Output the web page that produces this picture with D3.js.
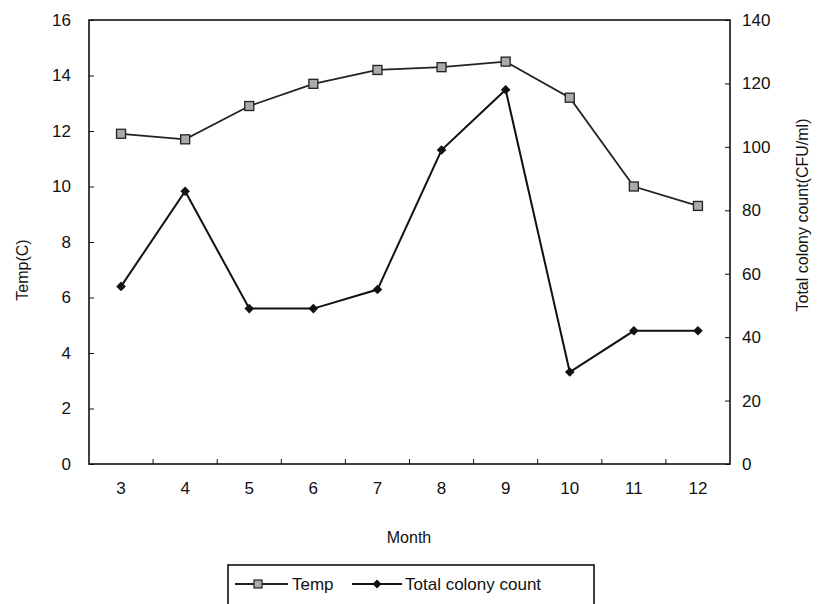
<!DOCTYPE html>
<html>
<head>
<meta charset="utf-8">
<script src="https://cdn.jsdelivr.net/npm/d3@7"></script>
<style>
  body { margin: 0; background: #fff; }
  svg { font-family: "Liberation Sans", Arial, sans-serif; }
</style>
</head>
<body>
<div id="chart-container"></div>
<script>
// data
const months = [3, 4, 5, 6, 7, 8, 9, 10, 11, 12];
const temp = [11.9, 11.7, 12.9, 13.7, 14.2, 14.3, 14.5, 13.2, 10.0, 9.3];
const colony = [56, 86, 49, 49, 55, 99, 118, 29, 42, 42];
const leftTicks = [0, 2, 4, 6, 8, 10, 12, 14, 16];
const rightTicks = [0, 20, 40, 60, 80, 100, 120, 140];

const W = 818, H = 604;
const margin = { top: 20, right: 88, bottom: 140, left: 89 };
const width = W - margin.left - margin.right;
const height = H - margin.top - margin.bottom;

const svg = d3.select("#chart-container")
  .append("svg")
  .attr("width", W)
  .attr("height", H);

const g = svg.append("g")
  .attr("transform", `translate(${margin.left},${margin.top})`);

const x = d3.scaleBand().domain(months).range([0, width]);
const yL = d3.scaleLinear().domain([0, 16]).range([height, 0]);
const yR = d3.scaleLinear().domain([0, 140]).range([height, 0]);

// plot frame
g.append("rect")
  .attr("width", width)
  .attr("height", height)
  .attr("fill", "none")
  .attr("stroke", "#111")
  .attr("stroke-width", 1.6);

// x axis, ticks between categories pointing inward
const xAxis = g.append("g")
  .attr("transform", `translate(0,${height})`)
  .call(d3.axisBottom(x).tickSize(0).tickPadding(18));
xAxis.select(".domain").remove();
xAxis.selectAll("text").style("font-size", "17px").attr("fill", "#111");
g.selectAll(".xtick")
  .data(months.slice(1))
  .join("line")
  .attr("x1", d => x(d))
  .attr("x2", d => x(d))
  .attr("y1", height)
  .attr("y2", height - 5)
  .attr("stroke", "#111");

// left axis
const leftAxis = g.append("g")
  .call(d3.axisLeft(yL).tickValues(leftTicks).tickSize(-5).tickPadding(18));
leftAxis.select(".domain").remove();
leftAxis.selectAll("line").attr("stroke", "#111");
leftAxis.selectAll("text").style("font-size", "17px").attr("fill", "#111");

// right axis
const rightAxis = g.append("g")
  .attr("transform", `translate(${width},0)`)
  .call(d3.axisRight(yR).tickValues(rightTicks).tickSize(-5).tickPadding(12));
rightAxis.select(".domain").remove();
rightAxis.selectAll("line").attr("stroke", "#111");
rightAxis.selectAll("text").style("font-size", "17px").attr("fill", "#111");

// axis titles
svg.append("text")
  .attr("transform", `translate(28,${margin.top + 250}) rotate(-90)`)
  .attr("text-anchor", "middle")
  .style("font-size", "16px")
  .attr("fill", "#111")
  .text("Temp(C)");

svg.append("text")
  .attr("transform", `translate(808,215) rotate(-90)`)
  .attr("text-anchor", "middle")
  .style("font-size", "16px")
  .attr("fill", "#111")
  .text("Total colony count(CFU/ml)");

svg.append("text")
  .attr("x", margin.left + 320)
  .attr("y", 543)
  .attr("text-anchor", "middle")
  .style("font-size", "16px")
  .attr("fill", "#111")
  .text("Month");

const cx = d => x(d) + x.bandwidth() / 2;

// temp line with square markers
g.append("path")
  .datum(months)
  .attr("fill", "none")
  .attr("stroke", "#222")
  .attr("stroke-width", 1.8)
  .attr("d", d3.line().x(cx).y((d, i) => yL(temp[i])));

g.selectAll(".sq")
  .data(months)
  .join("rect")
  .attr("x", d => cx(d) - 4.5)
  .attr("y", (d, i) => yL(temp[i]) - 4.5)
  .attr("width", 9)
  .attr("height", 9)
  .attr("fill", "#aaa")
  .attr("stroke", "#222")
  .attr("stroke-width", 1.3);

// colony line with small diamond markers
g.append("path")
  .datum(months)
  .attr("fill", "none")
  .attr("stroke", "#111")
  .attr("stroke-width", 2)
  .attr("d", d3.line().x(cx).y((d, i) => yR(colony[i])));

g.selectAll(".dot")
  .data(months)
  .join("path")
  .attr("transform", (d, i) => `translate(${cx(d)},${yR(colony[i])}) rotate(45)`)
  .attr("d", d3.symbol().type(d3.symbolSquare).size(46))
  .attr("fill", "#111");

// legend
const lg = svg.append("g");
lg.append("rect")
  .attr("x", 228)
  .attr("y", 565)
  .attr("width", 366)
  .attr("height", 50)
  .attr("fill", "#fff")
  .attr("stroke", "#111")
  .attr("stroke-width", 1.6);

lg.append("line").attr("x1", 235).attr("x2", 288).attr("y1", 584).attr("y2", 584)
  .attr("stroke", "#222").attr("stroke-width", 1.8);
lg.append("rect").attr("x", 254).attr("y", 580).attr("width", 8).attr("height", 8)
  .attr("fill", "#aaa").attr("stroke", "#222").attr("stroke-width", 1.2);
lg.append("text").attr("x", 292).attr("y", 590)
  .style("font-size", "17px").attr("fill", "#111").text("Temp");

lg.append("line").attr("x1", 352).attr("x2", 402).attr("y1", 584).attr("y2", 584)
  .attr("stroke", "#111").attr("stroke-width", 1.8);
lg.append("path").attr("transform", "translate(377,584) rotate(45)")
  .attr("d", d3.symbol().type(d3.symbolSquare).size(40)).attr("fill", "#111");
lg.append("text").attr("x", 405).attr("y", 590)
  .style("font-size", "17px").attr("fill", "#111").text("Total colony count");
</script>
</body>
</html>
